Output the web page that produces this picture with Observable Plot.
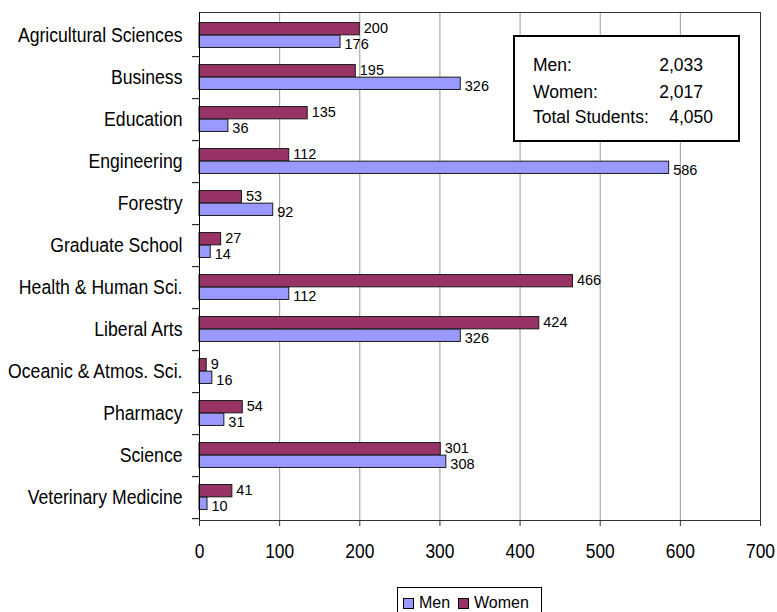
<!DOCTYPE html>
<html>
<head>
<meta charset="utf-8">
<script src="https://cdn.jsdelivr.net/npm/d3@7"></script>
<script src="https://cdn.jsdelivr.net/npm/@observablehq/plot@0.6"></script>
<style>
  html, body { margin: 0; padding: 0; background: #fff; }
  body { width: 777px; height: 612px; position: relative; overflow: hidden; font-family: "Liberation Sans", Arial, sans-serif; }
  #chart { position: absolute; left: 0; top: 0; }
  #totals { position: absolute; left: 513px; top: 35px; width: 223px; height: 103px; border: 2px solid #000; background: #fff; font-size: 17.5px; color: #000; }
  #totals .lab { position: absolute; left: 18px; }
  #totals .val { position: absolute; text-align: right; }
  #legend { position: absolute; left: 397px; top: 587px; width: 143px; height: 30px; border: 1px solid #000; background: #fff; font-size: 16px; color: #000; }
  #legend .item { position: absolute; top: 6px; display: flex; align-items: center; }
  #legend .sw { width: 9px; height: 9px; border: 1px solid #000; margin-right: 5px; display: inline-block; }
</style>
</head>
<body>
<div id="chart"></div>
<div id="totals"></div>
<div id="legend"></div>
<script>
const categories = [
  "Agricultural Sciences", "Business", "Education", "Engineering", "Forestry",
  "Graduate School", "Health & Human Sci.", "Liberal Arts", "Oceanic & Atmos. Sci.",
  "Pharmacy", "Science", "Veterinary Medicine"
];
const men   = [176, 326, 36, 586, 92, 14, 112, 326, 16, 31, 308, 10];
const women = [200, 195, 135, 112, 53, 27, 466, 424, 9, 54, 301, 41];
const xTicks = [0, 100, 200, 300, 400, 500, 600, 700];
const seriesNames = ["Men", "Women"];
const seriesColors = ["#9999ff", "#993366"];

const data = categories.map((c, i) => ({category: c, men: men[i], women: women[i]}));

const marginTop = 12, marginBottom = 55, height = 575;
const bw = (height - marginTop - marginBottom) / categories.length;
const barH = bw * 0.298;
const outer = bw / 2 - barH;

const chart = Plot.plot({
  width: 777,
  height,
  marginLeft: 199,
  marginRight: 17,
  marginTop,
  marginBottom,
  style: {fontFamily: "'Liberation Sans', Arial, sans-serif", color: "#000", background: "transparent", overflow: "visible"},
  x: {domain: [0, 700], ticks: xTicks, label: null},
  y: {domain: categories, padding: 0, label: null},
  marks: [
    Plot.gridX(xTicks, {stroke: "#9a9a9a", strokeOpacity: 1}),
    Plot.barX(data, {y: "category", x: "women", fill: seriesColors[1], stroke: "#1a1a1a", strokeWidth: 1, insetTop: outer, insetBottom: bw / 2}),
    Plot.barX(data, {y: "category", x: "men", fill: seriesColors[0], stroke: "#1a1a1a", strokeWidth: 1, insetTop: bw / 2, insetBottom: outer}),
    Plot.text(data, {y: "category", x: "women", text: d => String(d.women), textAnchor: "start", dx: 4, dy: -7, fontSize: 14.5, fill: "#000", ariaLabel: "value label"}),
    Plot.text(data, {y: "category", x: "men", text: d => String(d.men), textAnchor: "start", dx: 4, dy: 9, fontSize: 14.5, fill: "#000", ariaLabel: "value label"}),
    Plot.frame({stroke: "#333"}),
    Plot.ruleX([0], {stroke: "#000"}),
    Plot.axisX({ticks: xTicks, tickSize: 6, tickPadding: 17, fontSize: 20, label: null, stroke: "#333"}),
    Plot.axisY({tickSize: 0, tickPadding: 17, fontSize: 20.5, label: null}),
    Plot.axisY({tickSize: 7, tickFormat: () => "", dy: bw / 2, label: null, stroke: "#000"})
  ]
});
document.getElementById("chart").appendChild(chart);

// condense glyphs horizontally (narrow look of the reference)
function condense(selector, factor) {
  chart.querySelectorAll(selector).forEach(t => {
    const len = t.getComputedTextLength();
    if (len > 0) {
      t.setAttribute("textLength", (len * factor).toFixed(2));
      t.setAttribute("lengthAdjust", "spacingAndGlyphs");
    }
  });
}
condense('[aria-label="y-axis tick label"] text', 0.86);
condense('[aria-label="x-axis tick label"] text', 0.87);
condense('[aria-label="value label"] text', 0.82);

// totals box
const fmt = d3.format(",");
const sumMen = d3.sum(men), sumWomen = d3.sum(women);
const rows = [
  {lab: "Men:", val: fmt(sumMen), top: 18, right: 35},
  {lab: "Women:", val: fmt(sumWomen), top: 45, right: 35},
  {lab: "Total Students:", val: fmt(sumMen + sumWomen), top: 70, right: 25}
];
const box = document.getElementById("totals");
rows.forEach(r => {
  const l = document.createElement("div");
  l.className = "lab"; l.style.top = r.top + "px"; l.textContent = r.lab;
  const v = document.createElement("div");
  v.className = "val"; v.style.top = r.top + "px"; v.style.right = r.right + "px"; v.textContent = r.val;
  box.appendChild(l); box.appendChild(v);
});

// legend
const leg = document.getElementById("legend");
const lefts = [5, 60];
seriesNames.forEach((n, i) => {
  const it = document.createElement("div");
  it.className = "item"; it.style.left = lefts[i] + "px";
  const sw = document.createElement("span");
  sw.className = "sw"; sw.style.background = seriesColors[i];
  const t = document.createElement("span");
  t.textContent = n;
  it.appendChild(sw); it.appendChild(t);
  leg.appendChild(it);
});
</script>
</body>
</html>
